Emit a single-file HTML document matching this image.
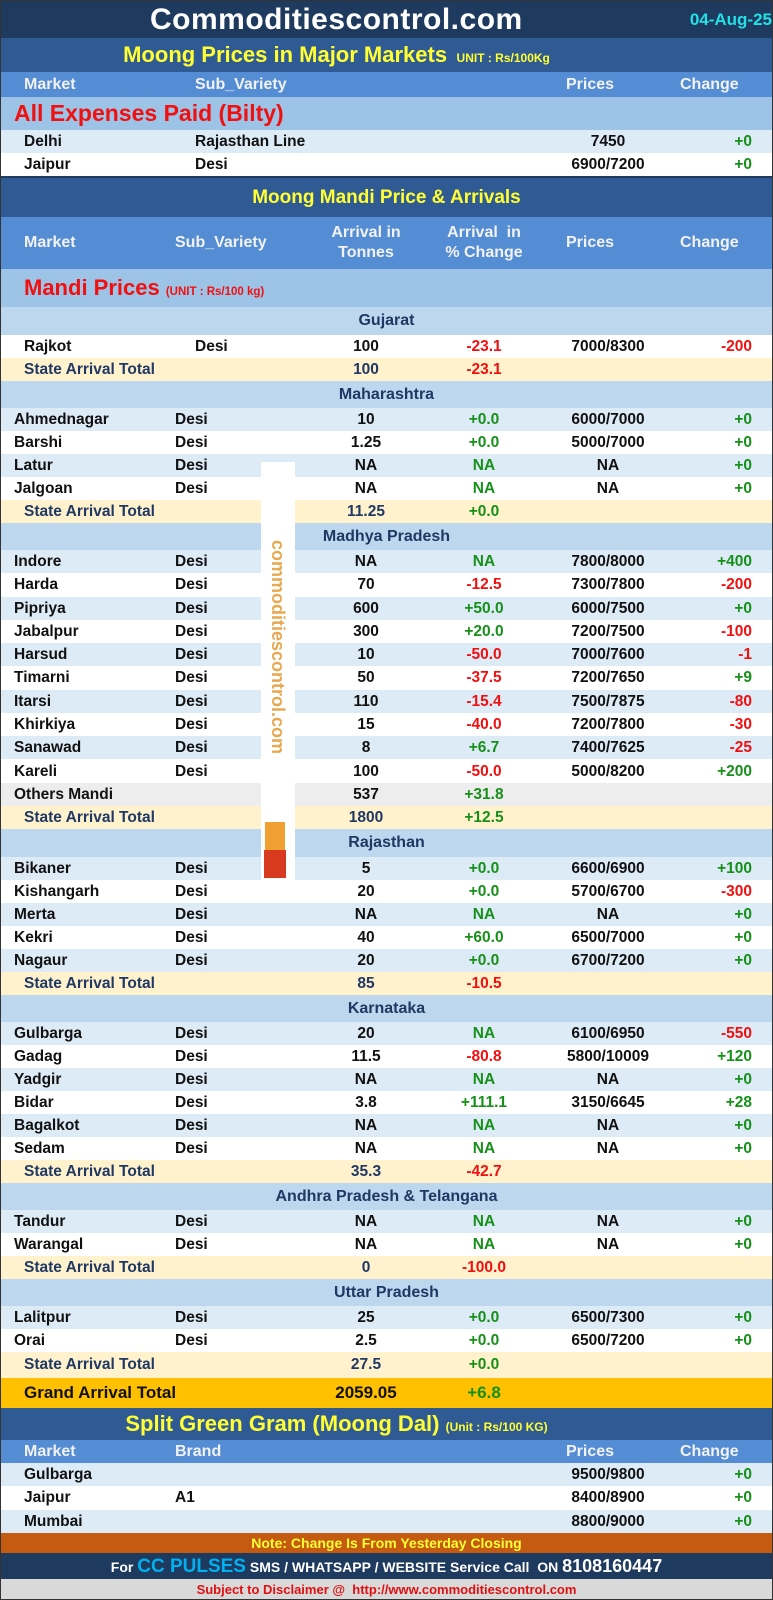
<!DOCTYPE html>
<html><head><meta charset="utf-8"><style>
*{margin:0;padding:0;box-sizing:border-box}
body{width:773px;height:1600px;position:relative;background:#fff;font-family:"Liberation Sans",Arial,sans-serif;font-weight:bold;overflow:hidden}
.r{position:absolute;left:0;width:773px;height:23px;line-height:23px;font-size:15.5px;color:#111}
.r span{position:absolute;top:0;white-space:nowrap}
.L{background:#ddebf7}.W{background:#fff}.O{background:#ededed}
.T{background:#fff2cc;color:#1f3864}
.H{background:#bdd7ee;color:#1f3864;text-align:center;font-size:16px}
.m{left:14px}.m2{left:24px}.s{left:175px}.s2{left:195px}
.a{left:306px;width:120px;text-align:center}
.p{left:424px;width:120px;text-align:center}
.pr{left:548px;width:120px;text-align:center}
.c{left:650px;width:102px;text-align:right}
.g{color:#17901a}.d{color:#f01010}
.band{position:absolute;left:0;width:773px;background:#2f5a94;color:#ffff33;text-align:center}
.hdr{position:absolute;left:0;width:773px;background:#548dd4;color:#f2f2f2;font-size:16px}
.hdr span{position:absolute;white-space:nowrap}
</style></head><body>
<div style="position:absolute;left:0;top:0;width:773px;height:38px;background:#1f3a5f;color:#fff;font-size:30px;line-height:40px">
<span style="position:absolute;left:150px;letter-spacing:0.5px">Commoditiescontrol.com</span>
<span style="position:absolute;right:1px;top:0;font-size:17px;color:#22e0e6">04-Aug-25</span></div>
<div class="band" style="top:38px;height:34px;line-height:34px;font-size:22px"><span style="position:relative;left:-50px">Moong Prices in Major Markets <span style="font-size:12px">&nbsp;UNIT : Rs/100Kg</span></span></div>
<div class="hdr" style="top:72px;height:25px;line-height:25px"><span style="left:24px">Market</span><span style="left:195px">Sub_Variety</span><span style="left:566px">Prices</span><span style="left:680px">Change</span></div>
<div style="position:absolute;top:97px;left:0;width:773px;height:33px;background:#9dc3e6;color:#f01010;font-size:23px;line-height:33px;padding-left:14px">All Expenses Paid (Bilty)</div>
<div class="r L" style="top:130px"><span class="m2">Delhi</span><span class="s2">Rajasthan Line</span><span class="pr">7450</span><span class="c g">+0</span></div>
<div class="r W" style="top:153px;height:24px"><span class="m2">Jaipur</span><span class="s2">Desi</span><span class="pr">6900/7200</span><span class="c g">+0</span></div>
<div style="position:absolute;top:176px;left:0;width:773px;height:2px;background:#1f3a5f"></div>
<div class="band" style="top:178px;height:39px;line-height:39px;font-size:19px">Moong Mandi Price &amp; Arrivals</div>
<div class="hdr" style="top:217px;height:52px;line-height:20px"><span style="left:24px;top:16px">Market</span><span style="left:175px;top:16px">Sub_Variety</span><span style="left:306px;width:120px;text-align:center;top:6px">Arrival in<br>Tonnes</span><span style="left:424px;width:120px;text-align:center;top:6px">Arrival&nbsp; in<br>% Change</span><span style="left:566px;top:16px">Prices</span><span style="left:680px;top:16px">Change</span></div>
<div style="position:absolute;top:269px;left:0;width:773px;height:38px;background:#9dc3e6;color:#f01010;font-size:22px;line-height:38px;padding-left:24px">Mandi Prices <span style="font-size:11.5px">(UNIT : Rs/100 kg)</span></div>

<div class="r H" style="top:307px;height:28px;line-height:28px">Gujarat</div>
<div class="r W" style="top:335px"><span class="m2">Rajkot</span><span class="s2">Desi</span><span class="a">100</span><span class="p d">-23.1</span><span class="pr">7000/8300</span><span class="c d">-200</span></div>
<div class="r T" style="top:358px"><span class="m2">State Arrival Total</span><span class="a">100</span><span class="p d">-23.1</span></div>

<div class="r H" style="top:381px;height:27px;line-height:27px">Maharashtra</div>
<div class="r L" style="top:408px"><span class="m">Ahmednagar</span><span class="s">Desi</span><span class="a">10</span><span class="p g">+0.0</span><span class="pr">6000/7000</span><span class="c g">+0</span></div>
<div class="r W" style="top:431px"><span class="m">Barshi</span><span class="s">Desi</span><span class="a">1.25</span><span class="p g">+0.0</span><span class="pr">5000/7000</span><span class="c g">+0</span></div>
<div class="r L" style="top:454px"><span class="m">Latur</span><span class="s">Desi</span><span class="a">NA</span><span class="p g">NA</span><span class="pr">NA</span><span class="c g">+0</span></div>
<div class="r W" style="top:477px"><span class="m">Jalgoan</span><span class="s">Desi</span><span class="a">NA</span><span class="p g">NA</span><span class="pr">NA</span><span class="c g">+0</span></div>
<div class="r T" style="top:500px"><span class="m2">State Arrival Total</span><span class="a">11.25</span><span class="p g">+0.0</span></div>

<div class="r H" style="top:523px;height:27px;line-height:27px">Madhya Pradesh</div>
<div class="r L" style="top:550px"><span class="m">Indore</span><span class="s">Desi</span><span class="a">NA</span><span class="p g">NA</span><span class="pr">7800/8000</span><span class="c g">+400</span></div>
<div class="r W" style="top:573px"><span class="m">Harda</span><span class="s">Desi</span><span class="a">70</span><span class="p d">-12.5</span><span class="pr">7300/7800</span><span class="c d">-200</span></div>
<div class="r L" style="top:597px"><span class="m">Pipriya</span><span class="s">Desi</span><span class="a">600</span><span class="p g">+50.0</span><span class="pr">6000/7500</span><span class="c g">+0</span></div>
<div class="r W" style="top:620px"><span class="m">Jabalpur</span><span class="s">Desi</span><span class="a">300</span><span class="p g">+20.0</span><span class="pr">7200/7500</span><span class="c d">-100</span></div>
<div class="r L" style="top:643px"><span class="m">Harsud</span><span class="s">Desi</span><span class="a">10</span><span class="p d">-50.0</span><span class="pr">7000/7600</span><span class="c d">-1</span></div>
<div class="r W" style="top:666px"><span class="m">Timarni</span><span class="s">Desi</span><span class="a">50</span><span class="p d">-37.5</span><span class="pr">7200/7650</span><span class="c g">+9</span></div>
<div class="r L" style="top:690px"><span class="m">Itarsi</span><span class="s">Desi</span><span class="a">110</span><span class="p d">-15.4</span><span class="pr">7500/7875</span><span class="c d">-80</span></div>
<div class="r W" style="top:713px"><span class="m">Khirkiya</span><span class="s">Desi</span><span class="a">15</span><span class="p d">-40.0</span><span class="pr">7200/7800</span><span class="c d">-30</span></div>
<div class="r L" style="top:736px"><span class="m">Sanawad</span><span class="s">Desi</span><span class="a">8</span><span class="p g">+6.7</span><span class="pr">7400/7625</span><span class="c d">-25</span></div>
<div class="r W" style="top:760px"><span class="m">Kareli</span><span class="s">Desi</span><span class="a">100</span><span class="p d">-50.0</span><span class="pr">5000/8200</span><span class="c g">+200</span></div>
<div class="r O" style="top:783px"><span class="m">Others Mandi</span><span class="a">537</span><span class="p g">+31.8</span></div>
<div class="r T" style="top:806px"><span class="m2">State Arrival Total</span><span class="a">1800</span><span class="p g">+12.5</span></div>

<div class="r H" style="top:829px;height:28px;line-height:28px">Rajasthan</div>
<div class="r L" style="top:857px"><span class="m">Bikaner</span><span class="s">Desi</span><span class="a">5</span><span class="p g">+0.0</span><span class="pr">6600/6900</span><span class="c g">+100</span></div>
<div class="r W" style="top:880px"><span class="m">Kishangarh</span><span class="s">Desi</span><span class="a">20</span><span class="p g">+0.0</span><span class="pr">5700/6700</span><span class="c d">-300</span></div>
<div class="r L" style="top:903px"><span class="m">Merta</span><span class="s">Desi</span><span class="a">NA</span><span class="p g">NA</span><span class="pr">NA</span><span class="c g">+0</span></div>
<div class="r W" style="top:926px"><span class="m">Kekri</span><span class="s">Desi</span><span class="a">40</span><span class="p g">+60.0</span><span class="pr">6500/7000</span><span class="c g">+0</span></div>
<div class="r L" style="top:949px"><span class="m">Nagaur</span><span class="s">Desi</span><span class="a">20</span><span class="p g">+0.0</span><span class="pr">6700/7200</span><span class="c g">+0</span></div>
<div class="r T" style="top:972px"><span class="m2">State Arrival Total</span><span class="a">85</span><span class="p d">-10.5</span></div>

<div class="r H" style="top:995px;height:27px;line-height:27px">Karnataka</div>
<div class="r L" style="top:1022px"><span class="m">Gulbarga</span><span class="s">Desi</span><span class="a">20</span><span class="p g">NA</span><span class="pr">6100/6950</span><span class="c d">-550</span></div>
<div class="r W" style="top:1045px"><span class="m">Gadag</span><span class="s">Desi</span><span class="a">11.5</span><span class="p d">-80.8</span><span class="pr">5800/10009</span><span class="c g">+120</span></div>
<div class="r L" style="top:1068px"><span class="m">Yadgir</span><span class="s">Desi</span><span class="a">NA</span><span class="p g">NA</span><span class="pr">NA</span><span class="c g">+0</span></div>
<div class="r W" style="top:1091px"><span class="m">Bidar</span><span class="s">Desi</span><span class="a">3.8</span><span class="p g">+111.1</span><span class="pr">3150/6645</span><span class="c g">+28</span></div>
<div class="r L" style="top:1114px"><span class="m">Bagalkot</span><span class="s">Desi</span><span class="a">NA</span><span class="p g">NA</span><span class="pr">NA</span><span class="c g">+0</span></div>
<div class="r W" style="top:1137px"><span class="m">Sedam</span><span class="s">Desi</span><span class="a">NA</span><span class="p g">NA</span><span class="pr">NA</span><span class="c g">+0</span></div>
<div class="r T" style="top:1160px"><span class="m2">State Arrival Total</span><span class="a">35.3</span><span class="p d">-42.7</span></div>

<div class="r H" style="top:1183px;height:27px;line-height:27px">Andhra Pradesh &amp; Telangana</div>
<div class="r L" style="top:1210px"><span class="m">Tandur</span><span class="s">Desi</span><span class="a">NA</span><span class="p g">NA</span><span class="pr">NA</span><span class="c g">+0</span></div>
<div class="r W" style="top:1233px"><span class="m">Warangal</span><span class="s">Desi</span><span class="a">NA</span><span class="p g">NA</span><span class="pr">NA</span><span class="c g">+0</span></div>
<div class="r T" style="top:1256px"><span class="m2">State Arrival Total</span><span class="a">0</span><span class="p d">-100.0</span></div>

<div class="r H" style="top:1279px;height:27px;line-height:27px">Uttar Pradesh</div>
<div class="r L" style="top:1306px"><span class="m">Lalitpur</span><span class="s">Desi</span><span class="a">25</span><span class="p g">+0.0</span><span class="pr">6500/7300</span><span class="c g">+0</span></div>
<div class="r W" style="top:1329px"><span class="m">Orai</span><span class="s">Desi</span><span class="a">2.5</span><span class="p g">+0.0</span><span class="pr">6500/7200</span><span class="c g">+0</span></div>
<div class="r T" style="top:1352px;height:26px;line-height:26px"><span class="m2">State Arrival Total</span><span class="a">27.5</span><span class="p g">+0.0</span></div>
<div class="r" style="top:1378px;height:30px;line-height:30px;background:#ffc000;font-size:17px"><span class="m2">Grand Arrival Total</span><span class="a">2059.05</span><span class="p g">+6.8</span></div>

<div class="band" style="top:1408px;height:32px;line-height:32px;font-size:22px"><span style="position:relative;left:-50px">Split Green Gram (Moong Dal) <span style="font-size:12px">(Unit : Rs/100 KG)</span></span></div>
<div class="hdr" style="top:1440px;height:23px;line-height:23px"><span style="left:24px">Market</span><span style="left:175px">Brand</span><span style="left:566px">Prices</span><span style="left:680px">Change</span></div>
<div class="r L" style="top:1463px"><span class="m2">Gulbarga</span><span class="pr">9500/9800</span><span class="c g">+0</span></div>
<div class="r W" style="top:1486px;height:24px"><span class="m2">Jaipur</span><span class="s">A1</span><span class="pr">8400/8900</span><span class="c g">+0</span></div>
<div class="r L" style="top:1510px"><span class="m2">Mumbai</span><span class="pr">8800/9000</span><span class="c g">+0</span></div>
<div style="position:absolute;top:1533px;left:0;width:773px;height:20px;background:#c55a11;color:#ffff33;text-align:center;font-size:14px;line-height:20px">Note: Change Is From Yesterday Closing</div>
<div style="position:absolute;top:1553px;left:0;width:773px;height:26px;background:#1f3a5f;color:#fff;text-align:center;font-size:14px;line-height:26px">For <span style="color:#00b0f0;font-size:19px">CC PULSES</span> SMS / WHATSAPP / WEBSITE Service Call&nbsp; ON <span style="font-size:18px">8108160447</span></div>
<div style="position:absolute;top:1579px;left:0;width:773px;height:21px;background:#d9d9d9;color:#e01010;text-align:center;font-size:13px;line-height:21px">Subject to Disclaimer @&nbsp; http://www.commoditiescontrol.com</div>

<div style="position:absolute;left:261px;top:462px;width:34px;height:435px;background:#fff">
<div style="position:absolute;left:6px;top:10px;width:22px;height:350px;writing-mode:vertical-rl;color:#e8a850;font-size:18px;line-height:22px;text-align:center">commoditiescontrol.com</div>
<div style="position:absolute;left:4px;top:360px;width:20px;height:28px;background:#f0a030"></div>
<div style="position:absolute;left:3px;top:388px;width:22px;height:28px;background:#d83a20"></div>
</div>
<div style="position:absolute;left:0;top:0;width:773px;height:1600px;border:1px solid #333;pointer-events:none"></div>
</body></html>
